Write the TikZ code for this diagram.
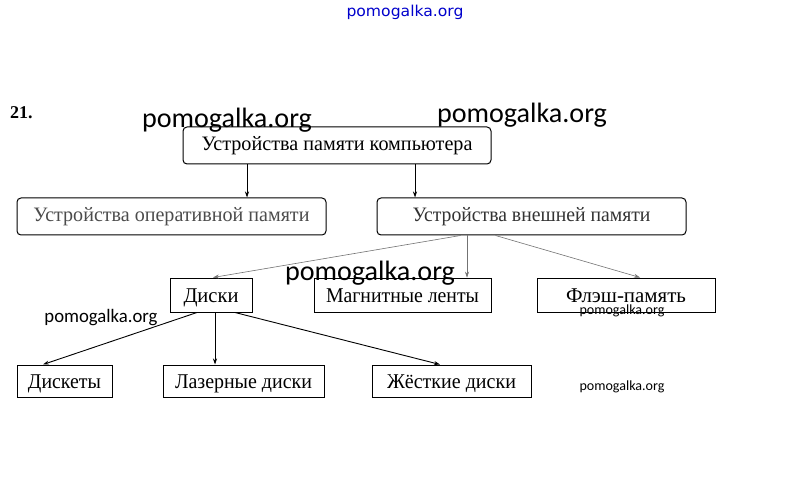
\documentclass[tikz,border=0pt]{standalone}
\usepackage{fontspec}
\setmainfont{Liberation Serif}
\newfontfamily\wmfont{Carlito}
\newfontfamily\rndfont{DejaVu Sans}
\usetikzlibrary{arrows.meta}
\newcommand{\fitw}[2]{\resizebox{#1}{\height}{#2}}
\tikzset{
  rbox/.style={draw, line width=1pt, rounded corners=4pt, inner sep=0pt, text height=13pt, text depth=2pt, font=\fontsize{20.5}{22}\selectfont},
  sbox/.style={draw, line width=1pt, inner sep=0pt, text height=16pt, text depth=1pt, font=\fontsize{21}{23}\selectfont},
  tbox/.style={draw, line width=0.6pt, inner sep=0pt, text height=16pt, text depth=1pt, font=\fontsize{21}{23}\selectfont},
  arr/.style={-{Stealth[length=6pt,width=4pt]}, line width=0.9pt},
  garr/.style={-{Stealth[length=6pt,width=4pt]}, line width=0.6pt, draw=black!55},
  wm/.style={font=\wmfont\fontsize{28}{30}\selectfont, inner sep=0pt, anchor=base},
}
\begin{document}
\begin{tikzpicture}[x=1pt,y=-1pt]
\fill[white] (0,0) rectangle (808,494);
\useasboundingbox (0,0) rectangle (808,494);

\node[anchor=base west, inner sep=0pt, font=\bfseries\fontsize{18}{20}\selectfont] (num) at (10,119) {21.};

\node[rbox, minimum width=308pt, minimum height=37pt] (top) at (337,145.5) {\fitw{271pt}{Устройства памяти компьютера}};
\node[rbox, minimum width=309pt, minimum height=37pt, text=black!70] (oper) at (171.5,216.5) {\fitw{276pt}{Устройства оперативной памяти}};
\node[rbox, minimum width=309pt, minimum height=37pt, text=black!80] (ext) at (531.5,216.5) {\fitw{238pt}{Устройства внешней памяти}};

\node[sbox, minimum width=82pt, minimum height=34pt] (disks) at (211,295) {\fitw{55pt}{Диски}};
\node[tbox, minimum width=177pt, minimum height=34pt] (tape) at (402.5,295) {\fitw{153pt}{Магнитные ленты}};
\node[sbox, minimum width=178pt, minimum height=34pt] (flash) at (626,295) {\fitw{120pt}{Флэш-память}};

\node[sbox, minimum width=95pt, minimum height=32pt] (fd) at (64.5,381) {\fitw{73pt}{Дискеты}};
\node[sbox, minimum width=161pt, minimum height=32pt] (cd) at (243.5,381) {\fitw{137pt}{Лазерные диски}};
\node[sbox, minimum width=159pt, minimum height=32pt] (hd) at (451.5,381) {\fitw{129pt}{Жёсткие диски}};

\draw[arr] ([xshift=-90pt]top.south) -- ([xshift=75.5pt]oper.north);
\draw[arr] ([xshift=78pt]top.south) -- ([xshift=-116.5pt]ext.north);

\draw[garr] ([xshift=-71pt]ext.south) -- ([xshift=2pt]disks.north);
\draw[garr] ([xshift=-64.5pt]ext.south) -- ([xshift=64.5pt]tape.north);
\draw[garr] ([xshift=-36pt]ext.south) -- ([xshift=14pt]flash.north);

\draw[arr] ([xshift=-14pt]disks.south) -- ([xshift=-21.5pt]fd.north);
\draw[arr] ([xshift=4pt]disks.south) -- ([xshift=-28.5pt]cd.north);
\draw[arr] ([xshift=24pt]disks.south) -- ([xshift=-11.5pt]hd.north);

\node[wm] (w1) at (227,128) {\fitw{170pt}{pomogalka.org}};
\node[wm] (w2) at (522,123) {\fitw{170pt}{pomogalka.org}};
\node[wm] (w3) at (370,280) {\fitw{170pt}{pomogalka.org}};
\node[wm, font=\wmfont\fontsize{19}{21}\selectfont] (w4) at (101,322) {\fitw{113pt}{pomogalka.org}};
\node[wm, font=\wmfont\fontsize{14}{16}\selectfont] (w5) at (622,314) {\fitw{85pt}{pomogalka.org}};
\node[wm, font=\wmfont\fontsize{14}{16}\selectfont] (w6) at (622,390) {\fitw{85pt}{pomogalka.org}};
\node[wm, font=\rndfont\fontsize{15}{17}\selectfont, text=blue!80!black] (w7) at (405,17) {\fitw{117pt}{pomogalka.org}};
\end{tikzpicture}
\end{document}
